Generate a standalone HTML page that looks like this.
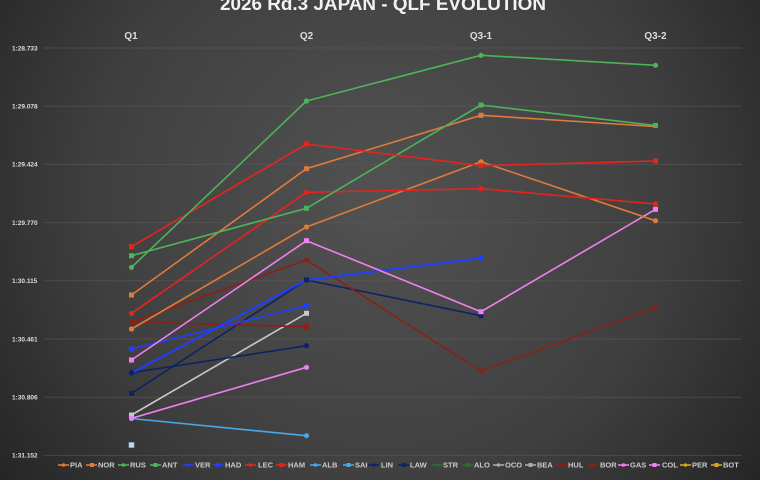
<!DOCTYPE html>
<html><head><meta charset="utf-8"><style>
html,body{margin:0;padding:0;background:#333;}
svg{display:block;}
text{font-family:"Liberation Sans",sans-serif;font-weight:bold;}
</style></head><body>
<svg width="760" height="480" viewBox="0 0 760 480" xmlns="http://www.w3.org/2000/svg">
<defs>
<radialGradient id="bg" cx="380" cy="200" r="480" gradientUnits="userSpaceOnUse">
<stop offset="0" stop-color="#525252"/>
<stop offset="0.6" stop-color="#3f3f3f"/>
<stop offset="1" stop-color="#242424"/>
</radialGradient>
</defs>
<rect width="760" height="480" fill="url(#bg)"/>
<text x="383" y="10" font-size="18" fill="#f2f2f2" text-anchor="middle" textLength="326" lengthAdjust="spacingAndGlyphs">2026 Rd.3 JAPAN - QLF EVOLUTION</text>
<g font-size="10" fill="#dddddd" text-anchor="middle">
<text x="131" y="39">Q1</text><text x="306.5" y="39">Q2</text><text x="481" y="39">Q3-1</text><text x="655.5" y="39">Q3-2</text>
</g>
<g stroke="#5a5a5a" stroke-width="1" opacity="0.6">
<line x1="44" y1="48" x2="742" y2="48"/><line x1="44" y1="106.2" x2="742" y2="106.2"/>
<line x1="44" y1="164.4" x2="742" y2="164.4"/><line x1="44" y1="222.6" x2="742" y2="222.6"/>
<line x1="44" y1="280.8" x2="742" y2="280.8"/><line x1="44" y1="339" x2="742" y2="339"/>
<line x1="44" y1="397.2" x2="742" y2="397.2"/><line x1="44" y1="455.4" x2="742" y2="455.4"/>
</g>
<g font-size="6.5" fill="#dddddd">
<text x="12" y="50.3">1:28.733</text><text x="12" y="108.5">1:29.078</text>
<text x="12" y="166.7">1:29.424</text><text x="12" y="224.9">1:29.770</text>
<text x="12" y="283.1">1:30.115</text><text x="12" y="341.3">1:30.461</text>
<text x="12" y="399.5">1:30.806</text><text x="12" y="457.7">1:31.152</text>
</g>
<g fill="none" stroke-width="1.6" stroke-linejoin="round">
<polyline stroke="#c8c8c8" points="131.5,415 306.5,313.3"/>
<polyline stroke="#4aa8e8" points="131.5,418.5 306.5,435.7"/>
<polyline stroke="#f080f0" points="131.5,418.3 306.5,367.3"/>
<polyline stroke="#0c2366" points="131.5,372.7 306.5,345.7"/>
<polyline stroke="#0c2366" points="131.5,393.3 306.5,280 481,315.7"/>
<polyline stroke="#8a2016" points="131.5,322 306.5,326.7"/>
<polyline stroke="#8a2016" points="131.5,322 306.5,260 481,371 655.5,307.7"/>
<polyline stroke="#1f3fff" points="131.5,349 306.5,305.7"/>
<polyline stroke="#1f3fff" stroke-width="2" points="131.5,373 306.5,280 481,258"/>
<polyline stroke="#f080f0" points="131.5,360 306.5,240.7 481,311.7 655.5,209.3"/>
<polyline stroke="#e07a3a" points="131.5,329 306.5,227 481,161.7 655.5,220.7"/>
<polyline stroke="#e8231c" points="131.5,313.3 306.5,192.3 481,188.7 655.5,204"/>
<polyline stroke="#e07a3a" points="131.5,295 306.5,168.7 481,115.3 655.5,126.5"/>
<polyline stroke="#4db35a" points="131.5,255.7 306.5,208.3 481,105 655.5,125.5"/>
<polyline stroke="#e8231c" points="131.5,246.7 306.5,144 481,165.7 655.5,161"/>
<polyline stroke="#4db35a" points="131.5,267.3 306.5,101 481,55.3 655.5,65.3"/>
</g>
<g>
<rect x="129" y="442.5" width="5" height="5" fill="#d8d8d8" stroke="#7aaed0" stroke-width="0.8"/>
<rect x="129" y="412.5" width="5" height="5" fill="#c8c8c8"/><rect x="304" y="310.8" width="5" height="5" fill="#c8c8c8"/>
<g fill="#4aa8e8"><circle cx="131.5" cy="418.5" r="2.6"/><circle cx="306.5" cy="435.7" r="2.6"/></g>
<g fill="#f080f0"><circle cx="131.5" cy="418.3" r="2.6"/><circle cx="306.5" cy="367.3" r="2.6"/></g>
<g fill="#0c2366"><circle cx="131.5" cy="372.7" r="2.8"/><circle cx="306.5" cy="345.7" r="2.6"/>
<rect x="129" y="390.8" width="5" height="5"/><rect x="304" y="277.5" width="5" height="5"/><rect x="478.5" y="313.2" width="5" height="5"/></g>
<g fill="#8a2016"><rect x="129" y="319.5" width="5" height="5"/><rect x="304" y="324.2" width="5" height="5"/>
<circle cx="306.5" cy="260" r="2.6"/><circle cx="481" cy="371" r="2.6"/><circle cx="655.5" cy="307.7" r="2.6"/></g>
<g fill="#1f3fff"><rect x="129" y="346.5" width="5" height="5"/><rect x="304" y="303.2" width="5" height="5"/>
<circle cx="481" cy="258" r="2.6"/></g>
<g fill="#f080f0"><rect x="129" y="357.5" width="5" height="5"/><rect x="304" y="238.2" width="5" height="5"/><rect x="478.5" y="309.2" width="5" height="5"/><rect x="653" y="206.8" width="5" height="5"/></g>
<g fill="#e07a3a"><circle cx="131.5" cy="329" r="2.6"/><circle cx="306.5" cy="227" r="2.6"/><circle cx="481" cy="161.7" r="2.6"/><circle cx="655.5" cy="220.7" r="2.6"/>
<rect x="129" y="292.5" width="5" height="5"/><rect x="304" y="166.2" width="5" height="5"/><rect x="478.5" y="112.8" width="5" height="5"/></g>
<g fill="#e8231c"><circle cx="131.5" cy="313.3" r="2.6"/><circle cx="306.5" cy="192.3" r="2.6"/><circle cx="481" cy="188.7" r="2.6"/><circle cx="655.5" cy="204" r="2.6"/>
<rect x="129" y="244.2" width="5" height="5"/><rect x="304" y="141.5" width="5" height="5"/><rect x="478.5" y="163.2" width="5" height="5"/><rect x="653" y="158.5" width="5" height="5"/></g>
<g fill="#4db35a"><rect x="129" y="253.2" width="5" height="5"/><rect x="304" y="205.8" width="5" height="5"/><rect x="478.5" y="102.5" width="5" height="5"/><rect x="653" y="123" width="5" height="5"/>
<circle cx="131.5" cy="267.3" r="2.6"/><circle cx="306.5" cy="101" r="2.6"/><circle cx="481" cy="55.3" r="2.6"/><circle cx="655.5" cy="65.3" r="2.6"/></g>
</g>
<g font-size="7.5" fill="#cccccc" stroke-width="1.6">
<line x1="58" y1="465" x2="69" y2="465" stroke="#e07a3a"/><circle cx="63.5" cy="465" r="1.8" fill="#e07a3a"/><text x="70" y="467.7">PIA</text>
<line x1="86" y1="465" x2="97" y2="465" stroke="#e07a3a"/><rect x="90" y="463" width="4" height="4" fill="#e07a3a"/><text x="98" y="467.7">NOR</text>
<line x1="118" y1="465" x2="129" y2="465" stroke="#4db35a"/><circle cx="123.5" cy="465" r="1.8" fill="#4db35a"/><text x="130" y="467.7">RUS</text>
<line x1="150" y1="465" x2="161" y2="465" stroke="#4db35a"/><rect x="153.5" y="463" width="4" height="4" fill="#4db35a"/><text x="162" y="467.7">ANT</text>
<line x1="183" y1="465" x2="194" y2="465" stroke="#1f3fff"/><circle cx="188.5" cy="465" r="1.8" fill="#1f3fff"/><text x="195" y="467.7">VER</text>
<line x1="213" y1="465" x2="224" y2="465" stroke="#1f3fff"/><rect x="216.5" y="463" width="4" height="4" fill="#1f3fff"/><text x="225" y="467.7">HAD</text>
<line x1="245" y1="465" x2="256" y2="465" stroke="#e8231c"/><circle cx="250.5" cy="465" r="1.8" fill="#e8231c"/><text x="258" y="467.7">LEC</text>
<line x1="276" y1="465" x2="287" y2="465" stroke="#e8231c"/><rect x="279.5" y="463" width="4" height="4" fill="#e8231c"/><text x="288" y="467.7">HAM</text>
<line x1="310" y1="465" x2="321" y2="465" stroke="#4aa8e8"/><circle cx="315.5" cy="465" r="1.8" fill="#4aa8e8"/><text x="322" y="467.7">ALB</text>
<line x1="343" y1="465" x2="354" y2="465" stroke="#4aa8e8"/><rect x="346.5" y="463" width="4" height="4" fill="#4aa8e8"/><text x="355" y="467.7">SAI</text>
<line x1="368" y1="465" x2="379" y2="465" stroke="#0c2366"/><circle cx="373.5" cy="465" r="1.8" fill="#0c2366"/><text x="381" y="467.7">LIN</text>
<line x1="398" y1="465" x2="409" y2="465" stroke="#0c2366"/><rect x="401.5" y="463" width="4" height="4" fill="#0c2366"/><text x="410" y="467.7">LAW</text>
<line x1="432" y1="465" x2="443" y2="465" stroke="#2e6b2e"/><circle cx="437.5" cy="465" r="1.8" fill="#2e6b2e"/><text x="443" y="467.7">STR</text>
<line x1="463" y1="465" x2="474" y2="465" stroke="#2e6b2e"/><rect x="466.5" y="463" width="4" height="4" fill="#2e6b2e"/><text x="474" y="467.7">ALO</text>
<line x1="493" y1="465" x2="504" y2="465" stroke="#aaaaaa"/><circle cx="498.5" cy="465" r="1.8" fill="#aaaaaa"/><text x="505" y="467.7">OCO</text>
<line x1="525" y1="465" x2="536" y2="465" stroke="#aaaaaa"/><rect x="528.5" y="463" width="4" height="4" fill="#aaaaaa"/><text x="537" y="467.7">BEA</text>
<line x1="556" y1="465" x2="567" y2="465" stroke="#8a2016"/><circle cx="561.5" cy="465" r="1.8" fill="#8a2016"/><text x="568" y="467.7">HUL</text>
<line x1="587" y1="465" x2="598" y2="465" stroke="#8a2016"/><rect x="590.5" y="463" width="4" height="4" fill="#8a2016"/><text x="600" y="467.7">BOR</text>
<line x1="618" y1="465" x2="629" y2="465" stroke="#f080f0"/><circle cx="623.5" cy="465" r="1.8" fill="#f080f0"/><text x="630" y="467.7">GAS</text>
<line x1="649" y1="465" x2="660" y2="465" stroke="#f080f0"/><rect x="652.5" y="463" width="4" height="4" fill="#f080f0"/><text x="662" y="467.7">COL</text>
<line x1="680" y1="465" x2="691" y2="465" stroke="#d4a520"/><circle cx="685.5" cy="465" r="1.8" fill="#d4a520"/><text x="692" y="467.7">PER</text>
<line x1="711" y1="465" x2="722" y2="465" stroke="#d4a520"/><rect x="714.5" y="463" width="4" height="4" fill="#d4a520"/><text x="723" y="467.7">BOT</text>
</g>
</svg>
</body></html>
